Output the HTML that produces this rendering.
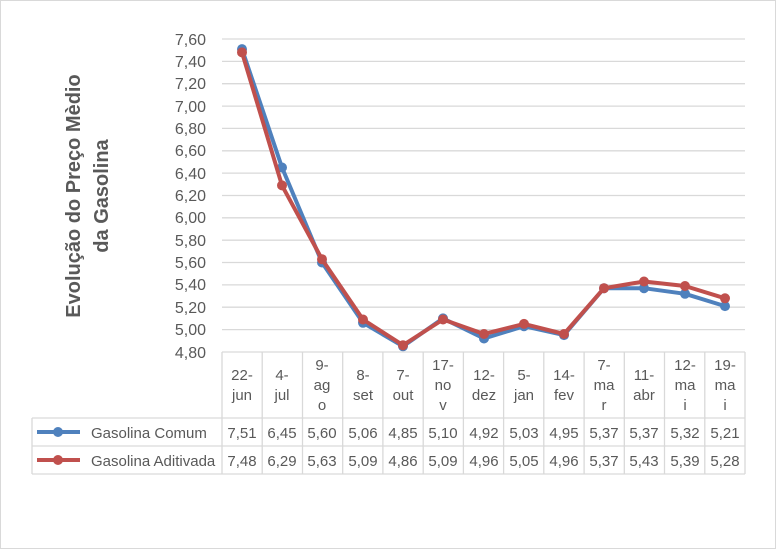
<!DOCTYPE html>
<html><head><meta charset="utf-8"><style>
body{margin:0;background:#fff}
svg{display:block;font-family:"Liberation Sans",sans-serif}
</style></head><body>
<svg width="777" height="551" viewBox="0 0 777 551">
<rect x="0.5" y="0.5" width="775" height="548" fill="#fff" stroke="#d9d9d9"/>
<g stroke="#d9d9d9" stroke-width="1.3">
<line x1="222" x2="745" y1="39" y2="39"/><line x1="222" x2="745" y1="61.4" y2="61.4"/><line x1="222" x2="745" y1="83.7" y2="83.7"/><line x1="222" x2="745" y1="106.1" y2="106.1"/><line x1="222" x2="745" y1="128.4" y2="128.4"/><line x1="222" x2="745" y1="150.8" y2="150.8"/><line x1="222" x2="745" y1="173.1" y2="173.1"/><line x1="222" x2="745" y1="195.5" y2="195.5"/><line x1="222" x2="745" y1="217.8" y2="217.8"/><line x1="222" x2="745" y1="240.2" y2="240.2"/><line x1="222" x2="745" y1="262.5" y2="262.5"/><line x1="222" x2="745" y1="284.9" y2="284.9"/><line x1="222" x2="745" y1="307.2" y2="307.2"/><line x1="222" x2="745" y1="329.6" y2="329.6"/>
<line x1="222" x2="745" y1="352" y2="352"/>
<line x1="32" x2="745" y1="418" y2="418"/><line x1="32" x2="745" y1="446" y2="446"/><line x1="32" x2="745" y1="474" y2="474"/>
<line x1="32" x2="32" y1="418" y2="474"/>
<line x1="222" x2="222" y1="352" y2="474"/><line x1="262.2" x2="262.2" y1="352" y2="474"/><line x1="302.5" x2="302.5" y1="352" y2="474"/><line x1="342.7" x2="342.7" y1="352" y2="474"/><line x1="382.9" x2="382.9" y1="352" y2="474"/><line x1="423.2" x2="423.2" y1="352" y2="474"/><line x1="463.4" x2="463.4" y1="352" y2="474"/><line x1="503.6" x2="503.6" y1="352" y2="474"/><line x1="543.8" x2="543.8" y1="352" y2="474"/><line x1="584.1" x2="584.1" y1="352" y2="474"/><line x1="624.3" x2="624.3" y1="352" y2="474"/><line x1="664.5" x2="664.5" y1="352" y2="474"/><line x1="704.8" x2="704.8" y1="352" y2="474"/><line x1="745" x2="745" y1="352" y2="474"/>
</g>
<g fill="#595959" font-size="16" text-anchor="end">
<text x="206" y="45">7,60</text><text x="206" y="67">7,40</text><text x="206" y="89">7,20</text><text x="206" y="112">7,00</text><text x="206" y="134">6,80</text><text x="206" y="156">6,60</text><text x="206" y="179">6,40</text><text x="206" y="201">6,20</text><text x="206" y="223">6,00</text><text x="206" y="246">5,80</text><text x="206" y="268">5,60</text><text x="206" y="290">5,40</text><text x="206" y="313">5,20</text><text x="206" y="335">5,00</text><text x="206" y="358">4,80</text>
</g>
<text transform="translate(80,196) rotate(-90)" fill="#595959" font-size="20" font-weight="bold" text-anchor="middle"><tspan x="0" y="0">Evolução do Preço Mèdio</tspan><tspan x="0" y="28">da Gasolina</tspan></text>
<g fill="#595959" font-size="15" text-anchor="middle">
<text x="242" y="380">22-</text><text x="242" y="400">jun</text>
<text x="282" y="380">4-</text><text x="282" y="400">jul</text>
<text x="322" y="370">9-</text><text x="322" y="390">ag</text><text x="322" y="410">o</text>
<text x="363" y="380">8-</text><text x="363" y="400">set</text>
<text x="403" y="380">7-</text><text x="403" y="400">out</text>
<text x="443" y="370">17-</text><text x="443" y="390">no</text><text x="443" y="410">v</text>
<text x="484" y="380">12-</text><text x="484" y="400">dez</text>
<text x="524" y="380">5-</text><text x="524" y="400">jan</text>
<text x="564" y="380">14-</text><text x="564" y="400">fev</text>
<text x="604" y="370">7-</text><text x="604" y="390">ma</text><text x="604" y="410">r</text>
<text x="644" y="380">11-</text><text x="644" y="400">abr</text>
<text x="685" y="370">12-</text><text x="685" y="390">ma</text><text x="685" y="410">i</text>
<text x="725" y="370">19-</text><text x="725" y="390">ma</text><text x="725" y="410">i</text>
<text x="242" y="438">7,51</text><text x="282" y="438">6,45</text><text x="322" y="438">5,60</text><text x="363" y="438">5,06</text><text x="403" y="438">4,85</text><text x="443" y="438">5,10</text><text x="484" y="438">4,92</text><text x="524" y="438">5,03</text><text x="564" y="438">4,95</text><text x="604" y="438">5,37</text><text x="644" y="438">5,37</text><text x="685" y="438">5,32</text><text x="725" y="438">5,21</text>
<text x="242" y="466">7,48</text><text x="282" y="466">6,29</text><text x="322" y="466">5,63</text><text x="363" y="466">5,09</text><text x="403" y="466">4,86</text><text x="443" y="466">5,09</text><text x="484" y="466">4,96</text><text x="524" y="466">5,05</text><text x="564" y="466">4,96</text><text x="604" y="466">5,37</text><text x="644" y="466">5,43</text><text x="685" y="466">5,39</text><text x="725" y="466">5,28</text>
</g>
<g fill="#595959" font-size="15">
<text x="91" y="438">Gasolina Comum</text>
<text x="91" y="466">Gasolina Aditivada</text>
</g>
<line x1="37" x2="80" y1="432" y2="432" stroke="#4f81bd" stroke-width="4"/><circle cx="58" cy="432" r="5" fill="#4f81bd"/>
<line x1="37" x2="80" y1="460" y2="460" stroke="#c0504d" stroke-width="4"/><circle cx="58" cy="460" r="5" fill="#c0504d"/>
<g fill="#4f81bd">
<polyline fill="none" stroke="#4f81bd" stroke-width="4" stroke-linejoin="round" points="242,49.1 282,167.5 322,262.5 363,322.8 403,346.3 443,318.4 484,338.5 524,326.2 564,335.1 604,288.2 644,288.2 685,293.8 725,306.1"/>
<circle cx="242" cy="49.1" r="5"/><circle cx="282" cy="167.5" r="5"/><circle cx="322" cy="262.5" r="5"/><circle cx="363" cy="322.8" r="5"/><circle cx="403" cy="346.3" r="5"/><circle cx="443" cy="318.4" r="5"/><circle cx="484" cy="338.5" r="5"/><circle cx="524" cy="326.2" r="5"/><circle cx="564" cy="335.1" r="5"/><circle cx="604" cy="288.2" r="5"/><circle cx="644" cy="288.2" r="5"/><circle cx="685" cy="293.8" r="5"/><circle cx="725" cy="306.1" r="5"/>
</g>
<g fill="#c0504d">
<polyline fill="none" stroke="#c0504d" stroke-width="4" stroke-linejoin="round" points="242,52.4 282,185.4 322,259.2 363,319.5 403,345.2 443,319.5 484,334 524,323.9 564,334 604,288.2 644,281.5 685,286 725,298.3"/>
<circle cx="242" cy="52.4" r="5"/><circle cx="282" cy="185.4" r="5"/><circle cx="322" cy="259.2" r="5"/><circle cx="363" cy="319.5" r="5"/><circle cx="403" cy="345.2" r="5"/><circle cx="443" cy="319.5" r="5"/><circle cx="484" cy="334" r="5"/><circle cx="524" cy="323.9" r="5"/><circle cx="564" cy="334" r="5"/><circle cx="604" cy="288.2" r="5"/><circle cx="644" cy="281.5" r="5"/><circle cx="685" cy="286" r="5"/><circle cx="725" cy="298.3" r="5"/>
</g>
</svg>
</body></html>
